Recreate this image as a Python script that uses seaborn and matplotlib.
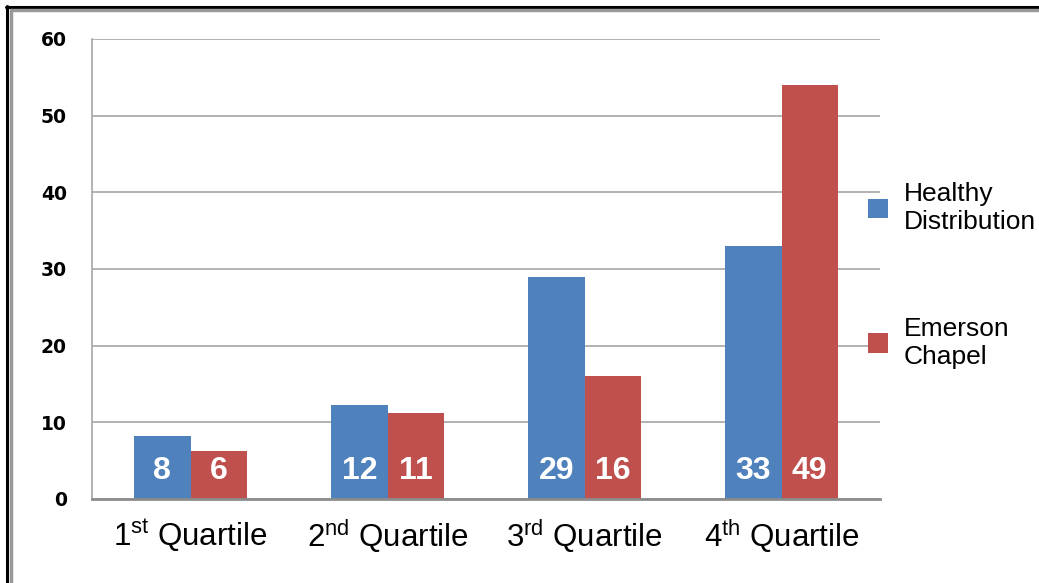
"""
Quartile comparison: Healthy Distribution vs Emerson Chapel
"""
import pandas as pd
import matplotlib.pyplot as plt
import seaborn as sns
from matplotlib.lines import Line2D
from matplotlib.patches import Patch

# --- data ---
quartiles = [r'1$^{\mathrm{st}}$ Quartile', r'2$^{\mathrm{nd}}$ Quartile',
             r'3$^{\mathrm{rd}}$ Quartile', r'4$^{\mathrm{th}}$ Quartile']
series = ['Healthy\nDistribution', 'Emerson\nChapel']
healthy = [8.2, 12.2, 29, 33]
emerson = [6.2, 11.2, 16, 54]
healthy_labels = ['8', '12', '29', '33']
emerson_labels = ['6', '11', '16', '49']
colors = ['#4F81BD', '#C0504D']

df = pd.DataFrame({
    'quartile': quartiles * 2,
    'series': [series[0]] * 4 + [series[1]] * 4,
    'value': healthy + emerson,
})

sns.set_style('white')
plt.rcParams['font.family'] = ['Liberation Sans', 'DejaVu Sans']
plt.rcParams['mathtext.fontset'] = 'custom'
plt.rcParams['mathtext.rm'] = 'Liberation Sans'
plt.rcParams['mathtext.it'] = 'Liberation Sans:italic'
plt.rcParams['mathtext.bf'] = 'Liberation Sans:bold'
plt.rcParams['text.color'] = 'black'
plt.rcParams['xtick.labelcolor'] = 'black'
plt.rcParams['ytick.labelcolor'] = 'black'

fig = plt.figure(figsize=(10.39, 5.83), dpi=100)
ax = fig.add_axes([92 / 1039, 1 - 499 / 583, (880 - 92) / 1039, (499 - 39) / 583])

sns.barplot(data=df, x='quartile', y='value', hue='series', palette=colors,
            width=0.57, gap=0, saturation=1, legend=False, linewidth=0, ax=ax)

# white value labels near the bottom of each bar
for container, labels in zip(ax.containers, [healthy_labels, emerson_labels]):
    for patch, lab in zip(container.patches, labels):
        ax.text(patch.get_x() + patch.get_width() / 2, 3.6, lab,
                ha='center', va='center', color='white',
                fontsize=23, fontweight='bold')

ax.set_ylim(0, 60)
ax.set_xlim(-0.5, 3.5)
ax.set_yticks(range(0, 61, 10))
ax.set_xlabel('')
ax.set_ylabel('')
grid_c = '#a6a6a6'
ax.yaxis.grid(True, color=grid_c, lw=1.2)
ax.set_axisbelow(True)
for s in ['top', 'right']:
    ax.spines[s].set_visible(False)
ax.spines['left'].set_color(grid_c)
ax.spines['left'].set_linewidth(1.2)
ax.spines['bottom'].set_color('#8c8c8c')
ax.spines['bottom'].set_linewidth(2)

ax.tick_params(axis='y', length=6, width=2, color='#8c8c8c', pad=12)
for t in ax.get_yticklabels():
    t.set_fontfamily('DejaVu Sans')
    t.set_fontweight('bold')
    t.set_fontsize(13.5)
ax.set_xticks([-0.5, 0.5, 1.5, 2.5, 3.5], minor=True)
ax.tick_params(axis='x', which='major', length=0, labelsize=22.5, pad=13)
ax.tick_params(axis='x', which='minor', length=5, width=2, color='#8c8c8c')

handles = [Patch(facecolor=c, edgecolor='none') for c in colors]
ax.legend(handles, series, loc='upper left',
          bbox_to_anchor=(868 / 1039, 1 - 182 / 583), bbox_transform=fig.transFigure,
          frameon=False, fontsize=19, handlelength=0.75, handleheight=0.75,
          handletextpad=0.6, labelspacing=3.15, borderpad=0, borderaxespad=0)

# frame lines top/left
fig.add_artist(Line2D([6 / 1039, 1], [1 - 7 / 583] * 2, color='black', lw=2.2))
fig.add_artist(Line2D([7 / 1039] * 2, [0, 1 - 6 / 583], color='black', lw=2.2))
fig.add_artist(Line2D([11 / 1039, 1], [1 - 10 / 583] * 2, color='#999999', lw=2.5))
fig.add_artist(Line2D([11 / 1039] * 2, [0, 1 - 10 / 583], color='#999999', lw=2.5))

plt.savefig('out.png', dpi=100)
